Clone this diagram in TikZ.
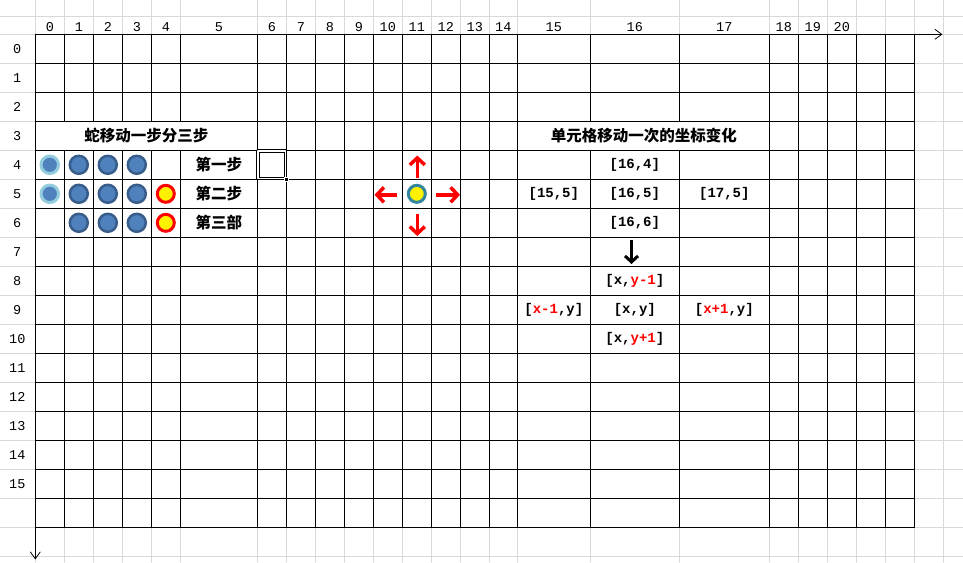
\documentclass[tikz,border=0pt]{standalone}
\usepackage{fontspec}
\newfontfamily\cjk{Noto Sans CJK SC}
\newfontfamily\cellmono{Liberation Mono}
\usetikzlibrary{arrows.meta}
\definecolor{sheetgrey}{HTML}{D9D9D9}
\definecolor{bodyblue}{HTML}{4F81BD}
\definecolor{bodyedge}{HTML}{385D8A}
\definecolor{tailedge}{HTML}{93CDDD}
\definecolor{tealedge}{HTML}{31859C}
\begin{document}
\begin{tikzpicture}[x=1pt,y=-1pt,line join=round,line cap=round]
\tikzset{hdr/.style={font=\cellmono\fontsize{13.5}{15}\selectfont,inner sep=0pt},
  cn/.style={font=\cjk\bfseries\fontsize{15.5}{18}\selectfont,inner sep=0pt},
  xy/.style={font=\cellmono\bfseries\fontsize{14}{16}\selectfont,inner sep=0pt},
  body/.style={circle,fill=bodyblue,draw=bodyedge,line width=2.5pt,minimum size=18pt,inner sep=0pt},
  tail/.style={body,draw=tailedge,line width=3pt,minimum size=17.5pt},
  food/.style={body,fill=yellow,draw=red,line width=3pt,minimum size=17pt},
  redarr/.style={red,line width=3.5pt,line cap=butt,-{Straight Barb[length=7pt,width=15pt]}}}
\useasboundingbox (0,0) rectangle (963,562);
\fill[white] (0,0) rectangle (963,562);
% sheet background
\foreach \x in {35.3,64.3,93.3,122.3,151.3,180.3,257.3,286.3,315.3,344.3,373.3,402.3,431.3,460.3,489.3,517.3,590.3,679.3,769.3,798.3,827.3,856.3,885.3,914.3,943.3}
\draw[sheetgrey,line width=1pt] (\x,0)--(\x,562);
\draw[sheetgrey,line width=1pt] (0,16)--(963,16);
\foreach \k in {0,...,18}
\draw[sheetgrey,line width=1pt] (0,{34.3+29*\k})--(963,{34.3+29*\k});
\fill[white] (35.3,34.3) rectangle (914.3,527.3);
% table
\foreach \k in {0,...,17}
\draw[line width=0.9pt] (35.3,{34.3+29*\k})--(914.3,{34.3+29*\k});
\foreach \x in {35.3,257.3,286.3,315.3,344.3,373.3,402.3,431.3,460.3,489.3,517.3,769.3,798.3,827.3,856.3,885.3,914.3}
\draw[line width=0.9pt] (\x,34.3)--(\x,527.3);
\foreach \x in {64.3,93.3,122.3,151.3,180.3,590.3,679.3}
{\draw[line width=0.9pt] (\x,34.3)--(\x,121.3);
\draw[line width=0.9pt] (\x,150.3)--(\x,527.3);}
% axes
\coordinate (O) at (35.3,34.3);
\coordinate (xend) at (942.5,34.3);
\coordinate (yend) at (35.3,559.5);
\draw[line width=0.8pt,-{Straight Barb[length=7pt,width=10pt]}] (O)--(xend);
\draw[line width=0.8pt,-{Straight Barb[length=7pt,width=10pt]}] (O)--(yend);
\foreach \c/\n in {49.8/0,78.8/1,107.8/2,136.8/3,165.8/4,218.8/5,271.8/6,300.8/7,329.8/8,358.8/9,387.8/10,416.8/11,445.8/12,474.8/13,503.3/14,553.8/15,634.8/16,724.3/17,783.8/18,812.8/19,841.8/20}
\node[hdr] (col\n) at (\c,27.3) {\n};
\foreach \n in {0,...,15}
\node[hdr] (row\n) at (17.3,{48.8+29*\n}) {\n};
% snake
\node[cn] (title) at (146.3,135.8) {蛇移动一步分三步};
\node[tail] (s40) at (49.8,164.8) {};
\foreach \c/\n in {78.8/1,107.8/2,136.8/3}
\node[body] (s4\n) at (\c,164.8) {};
\node[cn] (step1) at (218.8,164.8) {第一步};
\node[tail] (s50) at (49.8,193.8) {};
\foreach \c/\n in {78.8/1,107.8/2,136.8/3}
\node[body] (s5\n) at (\c,193.8) {};
\node[food] (s54) at (165.8,193.8) {};
\node[cn] (step2) at (218.8,193.8) {第二步};
\foreach \c/\n in {78.8/1,107.8/2,136.8/3}
\node[body] (s6\n) at (\c,222.8) {};
\node[food] (s64) at (165.8,222.8) {};
\node[cn] (step3) at (218.8,222.8) {第三部};
% selected cell
\node[draw=black,double=white,line width=1pt,double distance=1.4pt,minimum size=27.5pt,inner sep=0pt] (sel) at (271.8,164.8) {};
\node[fill=black,draw=white,line width=0.6pt,minimum size=4.5pt,inner sep=0pt] (grip) at (sel.south east) {};
% moving cell
\node[body,fill=yellow,draw=tealedge,line width=3pt,minimum size=17pt] (cell) at (416.8,193.8) {};
\coordinate (up-s) at (417.3,177.5);
\coordinate (up-e) at (417.3,155.5);
\coordinate (dn-s) at (417.3,213.5);
\coordinate (dn-e) at (417.3,236);
\coordinate (lf-s) at (397,194.8);
\coordinate (lf-e) at (374.5,194.8);
\coordinate (rt-s) at (436,194.8);
\coordinate (rt-e) at (460,194.8);
\draw[redarr] (up-s)--(up-e);
\draw[redarr] (dn-s)--(dn-e);
\draw[redarr] (lf-s)--(lf-e);
\draw[redarr] (rt-s)--(rt-e);
% coordinates
\node[cn] (title2) at (643.8,135.8) {单元格移动一次的坐标变化};
\node[xy] (p164) at (634.8,164.8) {[16,4]};
\node[xy] (p155) at (553.8,193.8) {[15,5]};
\node[xy] (p165) at (634.8,193.8) {[16,5]};
\node[xy] (p175) at (724.3,193.8) {[17,5]};
\node[xy] (p166) at (634.8,222.8) {[16,6]};
\coordinate (go-s) at (631.5,240);
\coordinate (go-e) at (631.5,264);
\draw[line width=3pt,line cap=butt,-{Straight Barb[length=6pt,width=13pt]}] (go-s)--(go-e);
\node[xy] (pu) at (634.8,280.8) {[x,\textcolor{red}{y-1}]};
\node[xy] (pl) at (553.8,309.8) {[\textcolor{red}{x-1},y]};
\node[xy] (pc) at (634.8,309.8) {[x,y]};
\node[xy] (pr) at (724.3,309.8) {[\textcolor{red}{x+1},y]};
\node[xy] (pd) at (634.8,338.8) {[x,\textcolor{red}{y+1}]};
\end{tikzpicture}
\end{document}
